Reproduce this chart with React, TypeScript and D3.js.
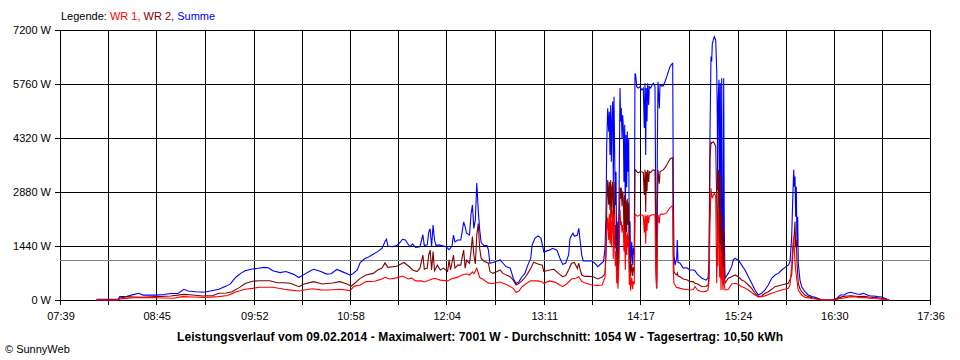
import React from 'react';
import * as d3 from 'd3';

// Tick labels
const xLabels = ['07:39', '08:45', '09:52', '10:58', '12:04', '13:11', '14:17', '15:24', '16:30', '17:36'];
const yTicks = [0, 1440, 2880, 4320, 5760, 7200];

// Kopfzeile / Fusszeile
const legendTitle = 'Legende: ';
const seriesNames = ['WR 1', 'WR 2', 'Summe'];
const dayAverage = 1054;
const titleText =
  'Leistungsverlauf vom 09.02.2014 - Maximalwert: 7001 W - Durchschnitt: 1054 W - Tagesertrag: 10,50 kWh';
const creditText = '\u00A9 SunnyWeb';

// Summe (blau), [Uhrzeit, Watt]
const summe: [string, number][] = [
  ['08:04', 20], ['08:19', 20], ['08:20', 90], ['08:25', 100], ['08:30', 150], ['08:33', 180], ['08:36', 130],
  ['08:40', 130], ['08:45', 130], ['08:50', 145], ['08:55', 175], ['09:00', 175], ['09:04', 285], ['09:07', 240],
  ['09:12', 220], ['09:18', 205], ['09:23', 245], ['09:28', 285], ['09:33', 370], ['09:36', 430], ['09:38', 535],
  ['09:40', 620], ['09:43', 710], ['09:46', 780], ['09:51', 825], ['09:55', 845], ['09:59', 870], ['10:02', 860],
  ['10:05', 780], ['10:10', 730], ['10:14', 760], ['10:19', 690], ['10:23', 600], ['10:26', 670], ['10:30', 760],
  ['10:33', 820], ['10:38', 760], ['10:42', 690], ['10:45', 700], ['10:49', 815], ['10:53', 750], ['10:58', 667],
  ['11:00', 700], ['11:03', 800], ['11:05', 1000], ['11:08', 1100], ['11:10', 1130], ['11:13', 1200], ['11:17', 1290],
  ['11:20', 1380], ['11:22', 1560], ['11:23', 1620], ['11:24', 1440], ['11:27', 1420], ['11:30', 1450], ['11:32', 1520],
  ['11:34', 1620], ['11:36', 1600], ['11:39', 1420], ['11:41', 1490], ['11:43', 1400], ['11:46', 1420], ['11:48', 1740],
  ['11:49', 1450], ['11:51', 1470], ['11:52', 1800], ['11:53', 1900], ['11:54', 1420], ['11:55', 2000], ['11:56', 1600],
  ['11:57', 1450], ['11:59', 1470], ['12:01', 1450], ['12:04', 1420], ['12:06', 1340], ['12:08', 1440], ['12:09', 1730],
  ['12:10', 1550], ['12:12', 1600], ['12:14', 1600], ['12:15', 1830], ['12:16', 2080], ['12:17', 1950], ['12:18', 1780],
  ['12:20', 1730], ['12:21', 2270], ['12:22', 2530], ['12:23', 1910], ['12:24', 2130], ['12:25', 3120], ['12:26', 2400],
  ['12:27', 1870], ['12:28', 1530], ['12:30', 1450], ['12:32', 1450], ['12:33', 1330], ['12:34', 980], ['12:36', 1000],
  ['12:39', 1040], ['12:41', 1070], ['12:43', 980], ['12:45', 890], ['12:48', 850], ['12:50', 580], ['12:52', 440],
  ['12:54', 490], ['12:56', 620], ['12:58', 710], ['13:00', 930], ['13:02', 1110], ['13:03', 1470], ['13:05', 1650],
  ['13:07', 1710], ['13:09', 1650], ['13:10', 1470], ['13:11', 1280], ['13:13', 1310], ['13:15', 1330], ['13:17', 1380],
  ['13:20', 1330], ['13:22', 1120], ['13:24', 950], ['13:26', 980], ['13:28', 1200], ['13:29', 1650], ['13:31', 1780],
  ['13:32', 1700], ['13:34', 1730], ['13:35', 1910], ['13:36', 1550], ['13:37', 1200], ['13:38', 1040], ['13:41', 1040],
  ['13:44', 1040], ['13:46', 980], ['13:48', 890], ['13:50', 960], ['13:52', 1030],
  ['13:52:59', 1380], ['13:53:40', 2270], ['13:54:09', 4130], ['13:54:50', 5110], ['13:55:31', 4490], ['13:55:56', 5020],
  ['13:56:25', 3870], ['13:56:54', 5200], ['13:57:18', 3690], ['13:57:47', 4760], ['13:58:16', 5290], ['13:58:41', 3150],
  ['13:59:10', 5420], ['13:59:38', 3870], ['14:00:03', 2530], ['14:00:32', 3420], ['14:01:01', 1200], ['14:01:25', 2090],
  ['14:01:54', 930], ['14:02:35', 2530], ['14:03:17', 5650], ['14:03:45', 4760], ['14:04:10', 5110], ['14:04:39', 4320],
  ['14:05:08', 4930], ['14:05:33', 4590], ['14:06:01', 3150], ['14:06:30', 4670], ['14:06:55', 2090], ['14:07:24', 4400],
  ['14:07:52', 3010], ['14:08:17', 4490], ['14:08:46', 3420], ['14:09:15', 4320], ['14:09:40', 1200], ['14:10:08', 2090],
  ['14:10:37', 850], ['14:11:18', 1550], ['14:12:00', 930], ['14:12:24', 1390], ['14:13:05', 1200], ['14:13:34', 6040],
  ['14:14:03', 6000], ['14:14:44', 5690], ['14:15:50', 5650], ['14:17:00', 5690], ['14:18:10', 5600], ['14:19:16', 5650],
  ['14:19:57', 4590], ['14:20:26', 5780], ['14:20:55', 3870], ['14:21:19', 5650], ['14:21:48', 4760], ['14:22:17', 5780],
  ['14:22:58', 5200], ['14:23:23', 5690], ['14:24:21', 5650], ['14:25:14', 5730], ['14:26:08', 5780], ['14:27:18', 5690],
  ['14:27:59', 1380], ['14:28:28', 310], ['14:28:52', 3870], ['14:29:21', 5820], ['14:30:15', 5110], ['14:30:44', 5730],
  ['14:31:54', 5710], ['14:32:59', 5710], ['14:34:09', 5820], ['14:35:20', 5950], ['14:36:26', 6090], ['14:37:35', 6220],
  ['14:38:45', 6290], ['14:39:26', 6310], ['14:39:51', 2980], ['14:40:20', 1200], ['14:41:01', 930], ['14:42:11', 1110],
  ['14:42:36', 1600], ['14:43:05', 1010], ['14:44:27', 980], ['14:46:43', 850], ['14:49:03', 860], ['14:51:19', 800],
  ['14:53:35', 800], ['14:54:45', 780], ['14:55:55', 710], ['14:56:48', 670], ['14:59:33', 580], ['15:02:18', 530],
  ['15:03:40', 580], ['15:04:21', 980], ['15:05:02', 4440], ['15:05:43', 6490], ['15:06:12', 6360], ['15:06:37', 6840],
  ['15:07:18', 6930], ['15:07:59', 7020], ['15:08:57', 6930], ['15:09:38', 6130], ['15:10:03', 4890], ['15:10:19', 2930],
  ['15:10:44', 5420], ['15:11:13', 5870], ['15:11:42', 2750], ['15:12:06', 5780], ['15:12:35', 980], ['15:13:04', 5910],
  ['15:13:29', 1870], ['15:13:58', 710], ['15:14:26', 5910], ['15:14:51', 1870], ['15:15:20', 580], ['15:17:35', 710],
  ['15:19:55', 890], ['15:21:01', 1070], ['15:22:11', 1110], ['15:24:27', 1070], ['15:26:47', 930], ['15:29:03', 800],
  ['15:31:19', 620], ['15:33:39', 445], ['15:35:55', 267], ['15:38:10', 133], ['15:40:30', 180], ['15:42:46', 267],
  ['15:45:02', 400], ['15:47:22', 580], ['15:49:38', 667], ['15:51:54', 710], ['15:54:14', 800], ['15:56:30', 870],
  ['15:58:46', 930], ['15:59:56', 1020], ['16:01:06', 1690], ['16:01:47', 2670], ['16:02:28', 3470], ['16:02:53', 3020],
  ['16:03:22', 3290], ['16:03:50', 2220], ['16:04:15', 3020], ['16:04:44', 1420], ['16:05:13', 2220], ['16:05:37', 980],
  ['16:06:47', 530], ['16:07:57', 355], ['16:10:13', 220], ['16:12:29', 133], ['16:15', 90], ['16:17:45', 67],
  ['16:21', 15], ['16:22', 0], ['16:28', 0], ['16:30', 15], ['16:32', 45], ['16:34:30', 133], ['16:37', 133],
  ['16:39', 180], ['16:41:30', 205], ['16:44', 180], ['16:46', 160], ['16:48:15', 150], ['16:50:30', 180], ['16:53', 133],
  ['16:55', 107], ['16:57:30', 107], ['17:00', 90], ['17:03', 80], ['17:05', 45], ['17:07', 15], ['17:08', 0],
];

// WR 2 (dunkelrot)
const wr2: [string, number][] = [
  ['08:04', 0], ['08:19', 0], ['08:20', 45], ['08:25', 90], ['08:30', 80], ['08:36', 70], ['08:45', 90], ['08:55', 107],
  ['09:04', 150], ['09:10', 133], ['09:17', 107], ['09:24', 120], ['09:28', 180], ['09:33', 185], ['09:37', 220],
  ['09:42', 330], ['09:46', 440], ['09:51', 500], ['09:56', 515], ['10:03', 515], ['10:08', 462], ['10:13', 462],
  ['10:17', 445], ['10:23', 355], ['10:26', 418], ['10:33', 490], ['10:39', 427], ['10:46', 453], ['10:51', 490],
  ['10:55', 440], ['10:59', 373], ['11:05', 578], ['11:09', 667], ['11:14', 710], ['11:17', 800], ['11:20', 850],
  ['11:22', 990], ['11:24', 870], ['11:30', 900], ['11:33', 960], ['11:35', 1000], ['11:39', 880], ['11:41', 800],
  ['11:44', 760], ['11:46', 850], ['11:48', 1200], ['11:49', 820], ['11:51', 850], ['11:52', 1200], ['11:53', 1330],
  ['11:54', 800], ['11:55', 1290], ['11:56', 780], ['11:58', 930], ['12:00', 800], ['12:02', 850], ['12:05', 760],
  ['12:06', 1070], ['12:07', 800], ['12:09', 1200], ['12:10', 850], ['12:12', 930], ['12:14', 930], ['12:15', 1150],
  ['12:16', 1330], ['12:17', 850], ['12:18', 1060], ['12:20', 980], ['12:21', 1290], ['12:22', 1690], ['12:23', 1200],
  ['12:24', 960], ['12:25', 1730], ['12:26', 2040], ['12:27', 1370], ['12:28', 1110], ['12:30', 1030], ['12:33', 980],
  ['12:34', 760], ['12:36', 710], ['12:39', 760], ['12:41', 800], ['12:43', 710], ['12:45', 670], ['12:48', 620],
  ['12:50', 530], ['12:52', 400], ['12:54', 445], ['12:56', 510], ['12:58', 600], ['13:00', 710], ['13:02', 840],
  ['13:04', 1010], ['13:07', 960], ['13:10', 930], ['13:11', 760], ['13:13', 780], ['13:15', 800], ['13:18', 820],
  ['13:21', 710], ['13:24', 620], ['13:26', 650], ['13:28', 800], ['13:30', 980], ['13:32', 1000], ['13:34', 840],
  ['13:35', 980], ['13:36', 800], ['13:37', 667], ['13:39', 630], ['13:42', 630], ['13:45', 620], ['13:48', 560],
  ['13:51', 610],
  ['13:52:59', 700], ['13:53:40', 1330], ['13:54:09', 2400], ['13:54:50', 3200], ['13:55:31', 2540], ['13:55:56', 3150],
  ['13:56:25', 2400], ['13:56:54', 3200], ['13:57:18', 2200], ['13:57:47', 3000], ['13:58:16', 3150], ['13:58:41', 1900],
  ['13:59:10', 3150], ['13:59:38', 2300], ['14:00:03', 1380], ['14:00:32', 2000], ['14:01:01', 750], ['14:01:25', 1250],
  ['14:01:54', 640], ['14:02:35', 1500], ['14:03:17', 3000], ['14:03:45', 2700], ['14:04:10', 3000], ['14:04:39', 2500],
  ['14:05:08', 2900], ['14:05:33', 2700], ['14:06:01', 1800], ['14:06:30', 2800], ['14:06:55', 1250], ['14:07:24', 2650],
  ['14:07:52', 1800], ['14:08:17', 2700], ['14:08:46', 2000], ['14:09:15', 2600], ['14:09:40', 760], ['14:10:08', 1250],
  ['14:10:37', 620], ['14:11:18', 950], ['14:12:00', 640], ['14:12:24', 870], ['14:13:05', 760], ['14:13:34', 3470],
  ['14:14:03', 3470], ['14:14:44', 3420], ['14:15:50', 3390], ['14:17:00', 3420], ['14:18:10', 3420], ['14:19:16', 3400],
  ['14:19:57', 2800], ['14:20:26', 3470], ['14:20:55', 2350], ['14:21:19', 3420], ['14:21:48', 2900], ['14:22:17', 3470],
  ['14:22:58', 3150], ['14:23:23', 3420], ['14:24:21', 3400], ['14:25:14', 3450], ['14:26:08', 3470], ['14:27:18', 3450],
  ['14:27:59', 840], ['14:28:28', 490], ['14:28:52', 2350], ['14:29:21', 3470], ['14:30:15', 3100], ['14:30:44', 3420],
  ['14:31:54', 3450], ['14:32:59', 3470], ['14:34:09', 3530], ['14:35:20', 3600], ['14:36:26', 3680], ['14:37:35', 3760],
  ['14:38:45', 3790], ['14:39:26', 3790], ['14:39:51', 1200], ['14:40:20', 760], ['14:41:01', 700], ['14:42:11', 670],
  ['14:42:36', 720], ['14:43:05', 640], ['14:44:27', 620], ['14:46:43', 560], ['14:49:03', 540], ['14:51:19', 490],
  ['14:53:35', 490], ['14:54:45', 445], ['14:56:48', 420], ['14:59:33', 355], ['15:02:18', 360], ['15:03:40', 400],
  ['15:04:21', 600], ['15:05:02', 3800], ['15:05:43', 4200], ['15:06:12', 4180], ['15:06:37', 4200], ['15:07:18', 4220],
  ['15:07:59', 4180], ['15:08:57', 4100], ['15:09:38', 2700], ['15:10:03', 1500], ['15:10:19', 900], ['15:10:44', 3470],
  ['15:11:13', 3400], ['15:11:42', 1200], ['15:12:06', 3330], ['15:12:35', 600], ['15:13:04', 2300], ['15:13:29', 1100],
  ['15:13:58', 450], ['15:14:26', 1900], ['15:14:51', 900], ['15:15:20', 445], ['15:17:35', 580], ['15:19:55', 620],
  ['15:22:11', 667], ['15:24:27', 620], ['15:26:47', 533], ['15:29:03', 490], ['15:31:19', 400], ['15:33:39', 310],
  ['15:35:55', 180], ['15:38:10', 90], ['15:40:30', 107], ['15:42:46', 180], ['15:45:02', 222], ['15:47:22', 285],
  ['15:49:38', 355], ['15:54:14', 400], ['15:58:46', 445], ['15:59:56', 550], ['16:01:06', 667], ['16:01:47', 1200],
  ['16:02:28', 1510], ['16:03:22', 2090], ['16:03:50', 1400], ['16:04:15', 1600], ['16:04:44', 980], ['16:05:37', 445],
  ['16:06:47', 300], ['16:07:57', 222], ['16:10:13', 133], ['16:12:29', 90], ['16:15', 60], ['16:17:45', 40],
  ['16:21', 10], ['16:22', 0], ['16:30', 0], ['16:33', 50], ['16:36', 90], ['16:39', 107], ['16:42', 110], ['16:45', 100],
  ['16:48', 90], ['16:51', 100], ['16:54', 80], ['16:57', 70], ['17:00', 60], ['17:03', 40], ['17:06', 10], ['17:08', 0],
];

// WR 1 (rot)
const wr1: [string, number][] = [
  ['08:04', 0], ['08:19', 0], ['08:20', 30], ['08:30', 60], ['08:38', 70], ['08:50', 55], ['08:57', 45], ['09:03', 90],
  ['09:10', 80], ['09:18', 70], ['09:28', 90], ['09:34', 120], ['09:37', 170], ['09:40', 220], ['09:46', 285],
  ['09:51', 310], ['09:56', 340], ['10:05', 340], ['10:13', 285], ['10:16', 270], ['10:23', 240], ['10:32', 300],
  ['10:38', 270], ['10:43', 267], ['10:51', 285], ['10:58', 250], ['11:01', 370], ['11:05', 400], ['11:09', 490],
  ['11:15', 500], ['11:19', 550], ['11:22', 605], ['11:25', 560], ['11:30', 590], ['11:34', 640], ['11:38', 560],
  ['11:40', 590], ['11:43', 510], ['11:47', 510], ['11:49', 480], ['11:53', 540], ['11:56', 580], ['12:00', 530],
  ['12:05', 510], ['12:08', 570], ['12:12', 610], ['12:15', 667], ['12:18', 700], ['12:20', 667], ['12:22', 750],
  ['12:23', 700], ['12:25', 850], ['12:27', 600], ['12:29', 560], ['12:33', 450], ['12:36', 440], ['12:41', 480],
  ['12:46', 400], ['12:50', 310], ['12:52', 205], ['12:54', 240], ['12:56', 355], ['12:59', 440], ['13:02', 510],
  ['13:07', 510], ['13:10', 480], ['13:11', 445], ['13:15', 510], ['13:19', 470], ['13:22', 400], ['13:24', 355],
  ['13:27', 440], ['13:30', 560], ['13:33', 580], ['13:35', 620], ['13:37', 490], ['13:39', 460], ['13:44', 400],
  ['13:48', 390], ['13:51', 400],
  ['13:52:59', 600], ['13:53:40', 1200], ['13:54:09', 1800], ['13:54:50', 2200], ['13:55:31', 1600], ['13:55:56', 2300],
  ['13:56:25', 1500], ['13:56:54', 2500], ['13:57:18', 1400], ['13:57:47', 2000], ['13:58:16', 2400], ['13:58:41', 1100],
  ['13:59:10', 2300], ['13:59:38', 1500], ['14:00:03', 900], ['14:00:32', 1300], ['14:01:01', 450], ['14:01:25', 800],
  ['14:01:54', 300], ['14:02:35', 1000], ['14:03:17', 2400], ['14:03:45', 2000], ['14:04:10', 2100], ['14:04:39', 1800],
  ['14:05:08', 2000], ['14:05:33', 1900], ['14:06:01', 1300], ['14:06:30', 1900], ['14:06:55', 800], ['14:07:24', 1750],
  ['14:07:52', 1200], ['14:08:17', 1800], ['14:08:46', 1400], ['14:09:15', 1700], ['14:09:40', 400], ['14:10:08', 800],
  ['14:10:37', 250], ['14:11:18', 600], ['14:12:00', 290], ['14:12:24', 500], ['14:13:05', 420], ['14:13:34', 2270],
  ['14:14:03', 2280], ['14:14:44', 2240], ['14:15:50', 2240], ['14:17:00', 2270], ['14:18:10', 2270], ['14:19:16', 2240],
  ['14:19:57', 1800], ['14:20:26', 2270], ['14:20:55', 1500], ['14:21:19', 2240], ['14:21:48', 1850], ['14:22:17', 2270],
  ['14:22:58', 2050], ['14:23:23', 2240], ['14:24:21', 2250], ['14:25:14', 2270], ['14:26:08', 2280], ['14:27:18', 2270],
  ['14:27:59', 540], ['14:28:28', 310], ['14:28:52', 1500], ['14:29:21', 2280], ['14:30:15', 2050], ['14:30:44', 2280],
  ['14:31:54', 2290], ['14:32:59', 2290], ['14:34:09', 2300], ['14:35:20', 2330], ['14:36:26', 2400], ['14:37:35', 2460],
  ['14:38:45', 2500], ['14:39:26', 2510], ['14:39:51', 760], ['14:40:20', 440], ['14:41:01', 400], ['14:42:11', 330],
  ['14:43:05', 330], ['14:44:27', 310], ['14:46:43', 290], ['14:49:03', 280], ['14:51:19', 267], ['14:53:35', 280],
  ['14:54:45', 355], ['14:56:48', 260], ['14:59:33', 222], ['15:02:18', 230], ['15:03:40', 267], ['15:04:21', 500],
  ['15:05:02', 2000], ['15:05:43', 2980], ['15:06:12', 2800], ['15:06:37', 2710], ['15:07:18', 2800], ['15:07:59', 2850],
  ['15:08:57', 2750], ['15:09:38', 450], ['15:10:03', 1300], ['15:10:19', 1800], ['15:10:44', 2400], ['15:11:13', 1200],
  ['15:11:42', 600], ['15:12:06', 1500], ['15:12:35', 267], ['15:13:04', 1300], ['15:13:29', 600], ['15:13:58', 267],
  ['15:14:26', 900], ['15:14:51', 400], ['15:15:20', 267], ['15:17:35', 280], ['15:19:55', 427], ['15:22:11', 445],
  ['15:24:27', 420], ['15:26:47', 355], ['15:29:03', 320], ['15:31:19', 267], ['15:33:39', 200], ['15:35:55', 133],
  ['15:38:10', 80], ['15:40:30', 90], ['15:42:46', 110], ['15:47:22', 180], ['15:54:14', 267], ['15:58:46', 310],
  ['15:59:56', 400], ['16:01:06', 900], ['16:01:47', 1420], ['16:02:28', 1690], ['16:03:22', 1000], ['16:03:50', 800],
  ['16:04:44', 500], ['16:05:37', 267], ['16:07:57', 133], ['16:10:13', 70], ['16:15', 40], ['16:21', 10], ['16:22', 0],
  ['16:30', 0], ['16:33', 30], ['16:36', 45], ['16:39', 70], ['16:42', 90], ['16:45', 80], ['16:48', 60], ['16:51', 70],
  ['16:54', 50], ['16:57', 40], ['17:00', 35], ['17:03', 20], ['17:06', 10], ['17:08', 0],
];

const seriesColor: Record<string, string> = { 'WR 1': '#ff0000', 'WR 2': '#800000', Summe: '#0000ff' };
const FONT = '"Liberation Sans", Arial, sans-serif';

const toMinutes = (s: string) => {
  const [h, m, sec = 0] = s.split(':').map(Number);
  return h * 60 + m + sec / 60;
};

export default function App() {
  const left = 60, right = 930, top = 30, bottom = 300;

  const labelMins = xLabels.map(toMinutes);
  const x = d3.scaleLinear().domain([labelMins[0], labelMins[labelMins.length - 1]]).range([left, right]);
  const y = d3.scaleLinear().domain([0, d3.max(yTicks) as number]).range([bottom, top]);

  // grid every half label step
  const gridMins = labelMins.flatMap((m, i) =>
    i < labelMins.length - 1 ? [m, (m + labelMins[i + 1]) / 2] : [m]
  );
  const px = (v: number) => Math.round(v) + 0.5;

  const line = d3
    .line<[string, number]>()
    .x((d) => x(toMinutes(d[0])))
    .y((d) => y(d[1]));

  const series: { name: string; data: [string, number][] }[] = [
    { name: 'Summe', data: summe },
    { name: 'WR 2', data: wr2 },
    { name: 'WR 1', data: wr1 },
  ];

  return (
    <svg
      width={960}
      height={360}
      style={{ position: 'absolute', left: 0, top: 0, background: '#fff', display: 'block' }}
      fontFamily={FONT}
    >
      {/* legend */}
      <text x={61} y={20} fontSize={11} fill="#000">
        {legendTitle}
        {seriesNames.map((n, i) => (
          <tspan key={n} fill={seriesColor[n]}>
            {n}
            {i < seriesNames.length - 1 ? ', ' : ''}
          </tspan>
        ))}
      </text>

      {/* horizontal grid + y ticks */}
      <g shapeRendering="crispEdges" stroke="#000" strokeWidth={1}>
        {yTicks.map((v) => (
          <line key={'h' + v} x1={left - 5} x2={right + 1} y1={px(y(v))} y2={px(y(v))} />
        ))}
        {gridMins.map((m, i) => (
          <line key={'v' + i} x1={px(x(m))} x2={px(x(m))} y1={top} y2={bottom + 5} />
        ))}
      </g>

      {yTicks.map((v) => (
        <text key={'yl' + v} x={51} y={y(v) + 4} fontSize={11} textAnchor="end" fill="#000">
          {v} W
        </text>
      ))}
      {xLabels.map((l) => (
        <text key={'xl' + l} x={x(toMinutes(l)) + 1} y={320} fontSize={11} textAnchor="middle" fill="#000">
          {l}
        </text>
      ))}

      {/* average line */}
      <line
        x1={left}
        x2={right}
        y1={px(y(dayAverage))}
        y2={px(y(dayAverage))}
        stroke="#808080"
        strokeWidth={1}
        shapeRendering="crispEdges"
      />

      {/* series */}
      {series.map((s) => (
        <path
          key={s.name}
          d={line(s.data) ?? ''}
          fill="none"
          stroke={seriesColor[s.name]}
          strokeWidth={1.1}
          strokeLinejoin="miter"
        />
      ))}

      <text
        x={177}
        y={341}
        fontSize={12}
        fontWeight="bold"
        fill="#000"
        textLength={606}
        lengthAdjust="spacing"
      >
        {titleText}
      </text>
      <text x={5} y={353} fontSize={11} fill="#000">
        {creditText}
      </text>
    </svg>
  );
}
